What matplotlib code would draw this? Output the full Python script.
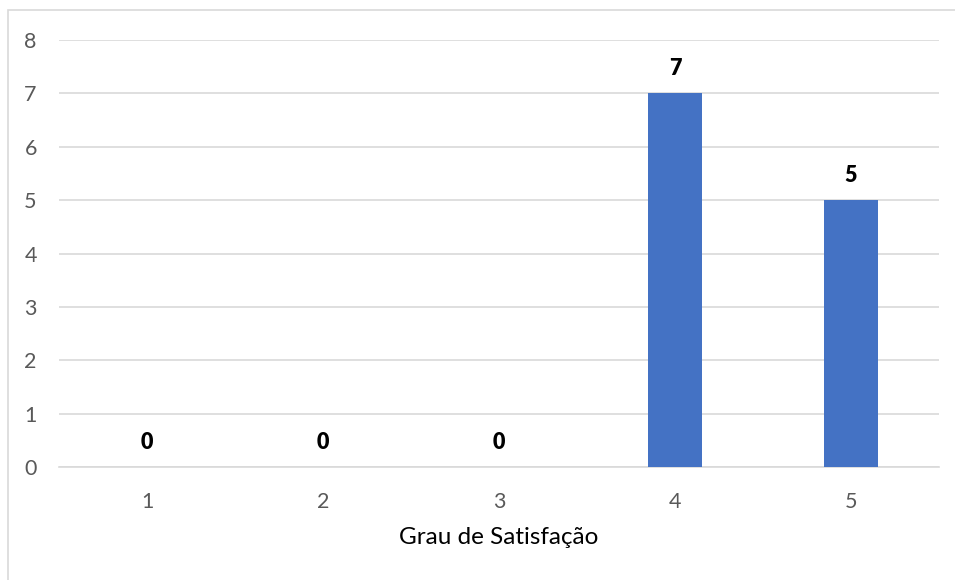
import matplotlib.pyplot as plt
from matplotlib.patches import Rectangle

categories = ['1', '2', '3', '4', '5']
counts = [0, 0, 0, 7, 5]

plt.rcParams['font.family'] = ['Lato', 'DejaVu Sans']

fig = plt.figure(figsize=(9.55, 5.8), dpi=100)
ax = fig.add_axes([59 / 955, 113 / 580, 880 / 955, 427 / 580])

x = list(range(len(categories)))
ax.bar(x, counts, width=0.31, color='#4472C4', zorder=3)
for xi, v in zip(x, counts):
    ax.text(xi, v + 0.27, str(v), ha='center', va='bottom',
            fontsize=15.5, fontweight='heavy', color='black')

ax.set_xlim(-0.5, len(categories) - 0.5)
ax.set_ylim(0, 8)
ax.set_yticks(range(0, 9))
ax.set_xticks(x)
ax.set_xticklabels(categories)
ax.yaxis.grid(True, color='#d9d9d9', linewidth=1.2, zorder=0)
for s in ['top', 'right', 'left']:
    ax.spines[s].set_visible(False)
ax.spines['bottom'].set_color('#d9d9d9')
ax.spines['bottom'].set_linewidth(1.2)
ax.tick_params(axis='both', length=0, labelsize=15.5, colors='#595959')
ax.tick_params(axis='y', pad=16)
ax.tick_params(axis='x', pad=18)
ax.set_xlabel('Grau de Satisfação', fontsize=17.5, color='black', labelpad=11)

# chart area border
fig.patches.append(Rectangle((8 / 955, -0.1), 1.0, (580 - 10) / 580 + 0.1,
                             transform=fig.transFigure, fill=False,
                             edgecolor='#d9d9d9', linewidth=1.2))

fig.savefig('out.png', dpi=100)
